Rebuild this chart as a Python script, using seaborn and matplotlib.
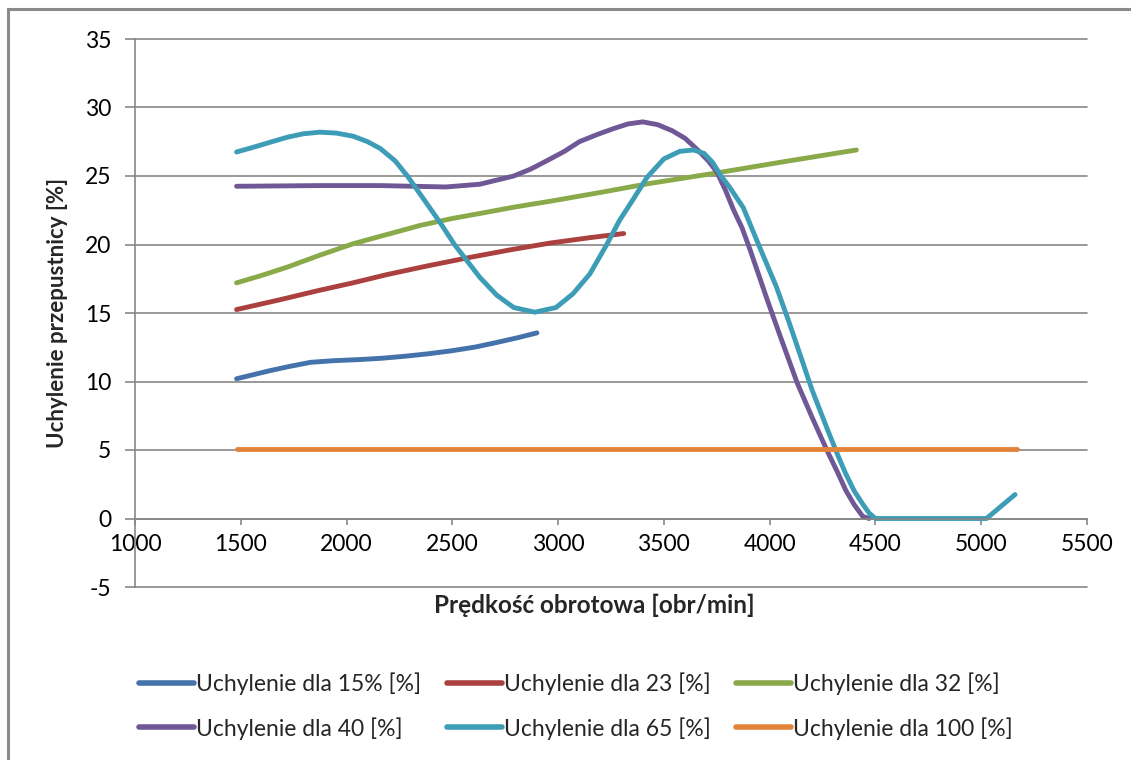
import matplotlib
matplotlib.use("Agg")
import matplotlib.pyplot as plt
import seaborn as sns
import pandas as pd
from matplotlib.patches import Rectangle

# Throttle deflection [%] versus engine speed [rpm] for several throttle settings
rpm_15 = [1480, 1560, 1640, 1730, 1830, 1940, 2060, 2170, 2280, 2390, 2500, 2610, 2710, 2810, 2900]
uch_15 = [10.2, 10.5, 10.8, 11.1, 11.4, 11.52, 11.6, 11.7, 11.85, 12.03, 12.25, 12.52, 12.85, 13.2, 13.55]

rpm_23 = [1480, 1680, 1870, 2030, 2190, 2380, 2580, 2770, 2960, 3150, 3310]
uch_23 = [15.25, 15.95, 16.65, 17.2, 17.8, 18.43, 19.05, 19.6, 20.1, 20.5, 20.8]

rpm_32 = [1480, 1600, 1720, 1870, 2030, 2160, 2350, 2500, 2660, 2800, 2960,
          3200, 3430, 3740, 4050, 4410]
uch_32 = [17.2, 17.75, 18.35, 19.2, 20.05, 20.6, 21.4, 21.9, 22.35, 22.75, 23.15,
          23.8, 24.45, 25.2, 26.0, 26.9]

rpm_40 = [1480, 1870, 2160, 2470, 2630, 2790, 2870, 2945, 3030, 3100, 3180, 3260,
          3330, 3400, 3470, 3540, 3600, 3660, 3710, 3750, 3790, 3830, 3870, 3910,
          3950, 3990, 4050, 4090, 4130, 4200, 4270, 4320, 4360, 4400, 4440, 4470]
uch_40 = [24.25, 24.3, 24.3, 24.2, 24.4, 25.0, 25.5, 26.1, 26.8, 27.5, 28.0, 28.45,
          28.8, 28.95, 28.75, 28.3, 27.75, 26.9, 26.1, 25.3, 24.0, 22.5, 21.2, 19.5,
          17.7, 15.9, 13.3, 11.6, 9.9, 7.4, 5.0, 3.4, 2.05, 1.0, 0.15, 0.0]

rpm_65 = [1480, 1560, 1640, 1720, 1795, 1874, 1953, 2032, 2100, 2160, 2230, 2290,
          2340, 2390, 2440, 2510, 2575, 2630, 2710, 2790, 2890, 2990, 3070, 3150,
          3230, 3290, 3355, 3420, 3500, 3575, 3640, 3690, 3730, 3770, 3810, 3840,
          3875, 3950, 4032, 4090, 4143, 4200, 4269, 4320, 4360, 4400, 4440, 4470,
          4500, 5025, 5160]
uch_65 = [26.75, 27.1, 27.47, 27.83, 28.08, 28.2, 28.13, 27.9, 27.5, 27.0, 26.1, 24.95,
          23.85, 22.75, 21.65, 20.0, 18.7, 17.6, 16.3, 15.4, 15.06, 15.4, 16.4, 17.85,
          20.0, 21.75, 23.3, 24.9, 26.25, 26.8, 26.9, 26.65, 26.0, 25.0, 24.2, 23.5,
          22.7, 19.9, 16.9, 14.4, 12.0, 9.4, 6.66, 4.7, 3.25, 2.0, 1.05, 0.4,
          0.0, 0.0, 1.75]

rpm_100 = [1480, 5170]
uch_100 = [5.1, 5.1]

labels = ["Uchylenie dla 15% [%]", "Uchylenie dla 23 [%]", "Uchylenie dla 32 [%]",
          "Uchylenie dla 40 [%]", "Uchylenie dla 65 [%]", "Uchylenie dla 100 [%]"]
colors = ["#4472AA", "#AA413E", "#8AAA4A", "#6F5895", "#3E9DB6", "#E2833A"]

x_ticks = list(range(1000, 5501, 500))
y_ticks = list(range(-5, 36, 5))

series = [(rpm_15, uch_15), (rpm_23, uch_23), (rpm_32, uch_32),
          (rpm_40, uch_40), (rpm_65, uch_65), (rpm_100, uch_100)]

sns.set_style("white")
plt.rcParams['font.family'] = ['Lato', 'DejaVu Sans']

W, H = 1131, 760
fig = plt.figure(figsize=(W / 100, H / 100), dpi=100)
ax = fig.add_axes([135 / W, 1 - 587 / H, (1087 - 135) / W, (587 - 39) / H])

for (xs, ys), lab, col in zip(series, labels, colors):
    df = pd.DataFrame({"rpm": xs, "uch": ys})
    sns.lineplot(data=df, x="rpm", y="uch", ax=ax, color=col, linewidth=3.5,
                 label=lab, estimator=None, sort=False,
                 solid_capstyle="round", solid_joinstyle="round")

grid_col = "#878787"
ax.set_xlim(1000, 5500)
ax.set_ylim(-5, 35)
ax.set_xticks(x_ticks)
ax.set_yticks(y_ticks)
ax.set_xticklabels([str(v) for v in x_ticks])
ax.set_yticklabels([str(v) for v in y_ticks])
ax.yaxis.grid(True, color=grid_col, linewidth=1.2)
ax.xaxis.grid(False)
for gl in ax.yaxis.get_gridlines():
    gl.set_clip_on(False)

for side in ("top", "right"):
    ax.spines[side].set_visible(False)
ax.spines["left"].set_color(grid_col)
ax.spines["left"].set_linewidth(1.2)
ax.spines["bottom"].set_position(("data", 0))
ax.spines["bottom"].set_color(grid_col)
ax.spines["bottom"].set_linewidth(1.2)

ax.tick_params(axis="x", direction="out", length=4.5, width=1.2, color=grid_col,
               labelsize=16.5, pad=7, labelcolor="black")
ax.tick_params(axis="y", direction="out", length=7, width=1.2, color=grid_col,
               labelsize=16.5, pad=10, labelcolor="black")
ax.tick_params(bottom=True, left=True)

ax.set_xlabel("Prędkość obrotowa [obr/min]", fontsize=17.5, fontweight="bold")
ax.set_ylabel("Uchylenie przepustnicy [%]", fontsize=16, fontweight="bold")
ax.xaxis.set_label_coords((594 - 135) / 952, (587 - 594) / 548)
ax.yaxis.set_label_coords((68 - 135) / 952, 0.5)

handles, labs = ax.get_legend_handles_labels()
order = [0, 3, 1, 4, 2, 5]
leg = ax.legend([handles[i] for i in order], [labs[i] for i in order],
                ncol=3, loc="center", bbox_to_anchor=(576 / W, 1 - 706 / H),
                bbox_transform=fig.transFigure, frameon=False, fontsize=16.5,
                handlelength=2.4, handletextpad=0.1, columnspacing=1.1,
                labelspacing=0.95)
for line in leg.get_lines():
    line.set_linewidth(4)

# outer chart frame
fig.add_artist(Rectangle((8 / W, -0.05), 1.2, 1 - 9 / H + 0.05,
                         transform=fig.transFigure, fill=False,
                         edgecolor="#8a8a8a", linewidth=2.2))

fig.savefig("out.png", dpi=100)
